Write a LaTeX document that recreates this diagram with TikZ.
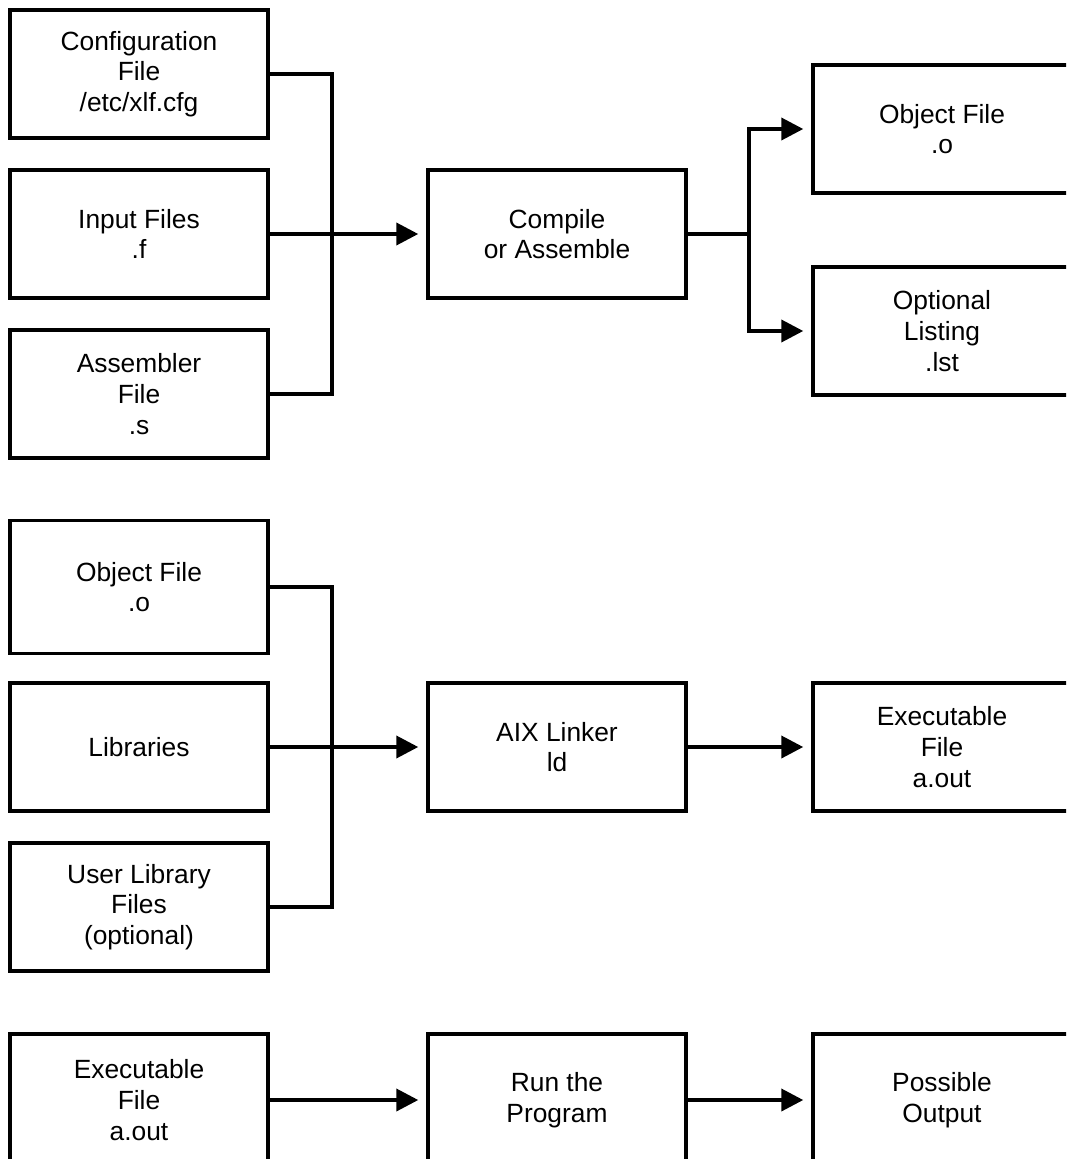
\documentclass[tikz,border=0pt]{standalone}
\usepackage{fontspec}
\setmainfont{Liberation Sans}
\usepackage{tikz}
\usetikzlibrary{arrows.meta,calc,positioning}
\tikzset{
  filebox/.style = {draw, rectangle, line width=2pt, minimum width=5.16cm,
  minimum height=2.56cm, align=center, inner sep=2pt, text centered,
  font=\fontsize{15}{17.5}\selectfont},
  in_box/.style = {filebox},
  step_box/.style = {filebox},
  out_box/.style = {filebox}
}

\begin{document}
\begin{tikzpicture}[x=0.02cm,y=-0.02cm,
        	feed/.style={line width=2.2pt},
        	flow/.style={feed, -{Triangle[length=0.44cm,width=0.44cm]}, shorten >=0.16cm}]
    \useasboundingbox (0,0) rectangle (1066,1159);
    \clip (0,0) rectangle (1066,1159);
    % compile
    \node [in_box] (cfg) at (139,74) {Configuration\\File\\/etc/xlf.cfg};
    \node [in_box] (inp) at (139,234) {Input Files\\.f};
    \node [in_box] (asm) at (139,394) {Assembler\\File\\.s};
    \node [step_box] (cmp) at (557,234) {Compile\\or Assemble};
    \node [out_box] (objout) at (942,129) {Object File\\.o};
    \node [out_box] (lst) at (942,331) {Optional\\Listing\\.lst};
    \coordinate (j1) at (332,234);
    \coordinate (j2) at (749,234);
    \draw [feed] (cfg.east) -| (j1) |- (asm.east);
    \draw [flow] (inp) -- (cmp);
    \draw [feed] (cmp.east) -- (j2);
    \draw [flow] (j2) |- (objout.west);
    \draw [flow] (j2) |- (lst.west);
    % link
    \node [in_box, minimum height=2.66cm] (obj) at (139,587) {Object File\\.o};
    \node [in_box] (lib) at (139,747) {Libraries};
    \node [in_box] (ulib) at (139,907) {User Library\\Files\\(optional)};
    \node [step_box] (ld) at (557,747) {AIX Linker\\ld};
    \node [out_box] (exe) at (942,747) {Executable\\File\\a.out};
    \coordinate (j3) at (332,747);
    \draw [feed] (obj.east) -| (j3) |- (ulib.east);
    \draw [flow] (lib) -- (ld);
    \draw [flow] (ld) -- (exe);
    % run
    \node [in_box, minimum height=2.64cm] (aout) at (139,1100) {Executable\\File\\a.out};
    \node [step_box, minimum height=2.64cm] (run) at (557,1100) {Run the\\Program};
    \node [out_box, minimum height=2.64cm] (res) at (942,1100) {Possible\\Output};
    \draw [flow] (aout) -- (run);
    \draw [flow] (run) -- (res);
\end{tikzpicture}
\end{document}
